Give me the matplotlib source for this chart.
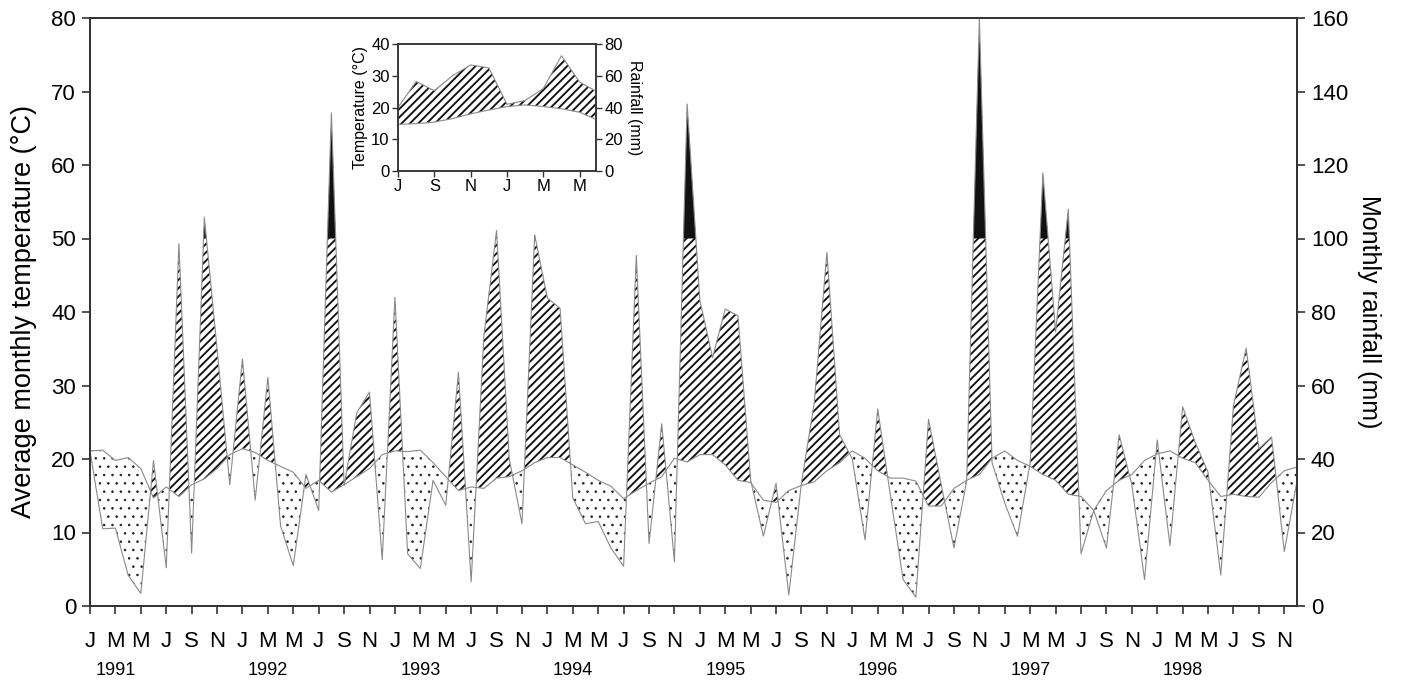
import numpy as np
import matplotlib
matplotlib.use("Agg")
import matplotlib.pyplot as plt

plt.rcParams['font.family'] = ['Liberation Sans', 'DejaVu Sans']
plt.rcParams['hatch.linewidth'] = 1.0

# ---------------- data (Jan 1991 .. Dec 1998) ----------------
years = [1991, 1992, 1993, 1994, 1995, 1996, 1997, 1998]
month_letters = ['J', 'M', 'M', 'J', 'S', 'N']

temperature = [
    21.1, 21.2, 19.8, 20.2, 18.7, 14.7, 16.2, 14.9, 16.5, 17.3, 18.7, 20.6,   # 1991
    21.4, 20.9, 19.8, 19.0, 18.2, 16.0, 17.1, 15.5, 16.5, 17.6, 18.7, 20.6,   # 1992
    21.1, 21.0, 21.2, 19.5, 17.6, 15.7, 16.2, 16.0, 17.4, 17.6, 18.4, 19.5,   # 1993
    20.2, 20.2, 19.2, 18.2, 17.1, 16.3, 14.6, 15.7, 16.7, 17.6, 20.1, 19.6,   # 1994
    20.6, 20.6, 19.2, 17.1, 16.8, 14.4, 14.1, 15.7, 16.4, 16.9, 18.4, 19.5,   # 1995
    21.1, 20.1, 18.4, 17.4, 17.4, 17.0, 13.6, 13.6, 16.0, 17.1, 17.9, 20.1,   # 1996
    21.1, 19.8, 19.0, 17.9, 17.1, 15.2, 14.9, 13.0, 15.7, 17.1, 17.9, 19.8,   # 1997
    20.7, 21.1, 20.1, 19.5, 17.1, 14.9, 15.2, 14.9, 14.8, 16.8, 18.4, 18.9,   # 1998
]

rainfall_mm = [
    42.2, 21.0, 21.2, 8.4, 3.4, 39.6, 10.4, 98.6, 14.4, 105.8, 70.0, 33.0,    # 1991
    67.2, 28.8, 62.2, 21.8, 11.0, 35.8, 26.0, 134.2, 32.8, 52.6, 58.2, 12.6,  # 1992
    84.0, 14.2, 10.2, 34.2, 27.4, 63.6, 6.6, 73.4, 102.2, 40.0, 22.4, 101.0,  # 1993
    83.8, 81.0, 29.4, 22.4, 23.0, 15.8, 10.8, 95.4, 17.0, 49.6, 12.0, 136.6,  # 1994
    83.2, 67.6, 80.8, 79.0, 34.2, 19.0, 33.4, 3.0, 33.6, 55.2, 96.2, 46.6,    # 1995
    40.0, 18.0, 53.6, 30.0, 7.2, 2.4, 50.8, 33.0, 15.8, 34.0, 159.8, 39.0,    # 1996
    28.0, 19.0, 39.0, 117.8, 74.6, 108.0, 14.2, 26.0, 15.8, 46.6, 33.0, 7.2,  # 1997
    45.2, 16.4, 54.2, 44.4, 36.4, 8.4, 54.6, 70.2, 42.8, 46.0, 14.8, 34.0,    # 1998
]

# inset: mean monthly climate, July .. June
inset_letters = ['J', 'S', 'N', 'J', 'M', 'M']
inset_temperature = [14.7, 14.9, 15.4, 16.5, 18.0, 19.2, 20.3, 20.8, 20.3, 19.6, 18.5, 16.0]
inset_rainfall_mm = [40.0, 56.4, 50.6, 60.0, 66.8, 65.0, 42.0, 44.4, 52.0, 72.6, 56.0, 49.6]

# ---------------- derived ----------------
t = np.array(temperature)
r = np.array(rainfall_mm) / 2.0          # rainfall on temperature scale (20 mm = 10 degC)
x = np.arange(len(t))

line_col = '#8a8a8a'
spine_col = '#333333'


def hatch_lw(coll, lw):
    if hasattr(coll, 'set_hatch_linewidth'):
        coll.set_hatch_linewidth(lw)


fig = plt.figure(figsize=(14.02, 6.82), dpi=100)
ax = fig.add_axes([90 / 1402, 76 / 682, 1207 / 1402, 588 / 682])

# humid (hatched), arid (dotted), very wet (black)
h = ax.fill_between(x, t, r, where=r >= t, interpolate=True, facecolor='white',
                    edgecolor='#111111', hatch='////', linewidth=0, zorder=1)
hatch_lw(h, 1.35)
with plt.rc_context({'hatch.linewidth': 0.6}):
    d = ax.fill_between(x, r, t, where=r <= t, interpolate=True, facecolor='white',
                        edgecolor='#222222', hatch='..', linewidth=0, zorder=1)
hatch_lw(d, 0.6)
ax.fill_between(x, 50, r, where=r >= 50, interpolate=True, facecolor='#111111',
                edgecolor='none', linewidth=0, zorder=2)
ax.plot(x, r, color=line_col, lw=0.8, zorder=3)
ax.plot(x, t, color=line_col, lw=0.8, zorder=3)

ax.set_xlim(0, len(t) - 1)
ax.set_ylim(0, 80)
ax.set_yticks(np.arange(0, 81, 10))
ax.set_xticks(np.arange(0, len(t), 2))
ax.set_xticklabels(month_letters * len(years))
ax.tick_params(axis='both', direction='out', length=6, width=1.2, color=spine_col,
               labelsize=16, pad=4)
ax.tick_params(axis='x', pad=12)
ax.set_ylabel('Average monthly temperature (\u00b0C)', fontsize=19.5, labelpad=10)
for i, yr in enumerate(years):
    ax.text(12 * i + 2, -0.11, str(yr), transform=ax.get_xaxis_transform(),
            ha='center', va='center', fontsize=13)

ax2 = ax.twinx()
ax2.set_ylim(0, 160)
ax2.set_yticks(np.arange(0, 161, 20))
ax2.tick_params(axis='y', direction='out', length=6, width=1.2, color=spine_col,
                labelsize=16, pad=4)
ax2.set_ylabel('Monthly rainfall (mm)', fontsize=18, rotation=270, labelpad=24)
for a in (ax, ax2):
    for s in a.spines.values():
        s.set_color(spine_col)
        s.set_linewidth(1.3)

# ---------------- inset ----------------
ti = np.array(inset_temperature)
ri = np.array(inset_rainfall_mm) / 2.0
xi = np.arange(len(ti))
ins = fig.add_axes([398 / 1402, (682 - 171) / 682, 198 / 1402, 127 / 682])
hi = ins.fill_between(xi, ti, ri, where=ri >= ti, interpolate=True, facecolor='white',
                      edgecolor='#111111', hatch='////', linewidth=0, zorder=1)
hatch_lw(hi, 1.35)
ins.plot(xi, ri, color=line_col, lw=0.8, zorder=3)
ins.plot(xi, ti, color=line_col, lw=0.8, zorder=3)
ins.set_xlim(0, 10.9)
ins.set_ylim(0, 40)
ins.set_yticks(np.arange(0, 41, 10))
ins.set_xticks(np.arange(0, 11, 2))
ins.set_xticklabels(inset_letters)
ins.tick_params(direction='out', length=4, width=1.0, color=spine_col, labelsize=12, pad=2)
ins.set_ylabel('Temperature (\u00b0C)', fontsize=11.5, labelpad=2)
ins2 = ins.twinx()
ins2.set_ylim(0, 80)
ins2.set_yticks(np.arange(0, 81, 20))
ins2.tick_params(direction='out', length=4, width=1.0, color=spine_col, labelsize=12, pad=2)
ins2.set_ylabel('Rainfall (mm)', fontsize=11.5, rotation=270, labelpad=14)
for a in (ins, ins2):
    for s in a.spines.values():
        s.set_color(spine_col)
        s.set_linewidth(1.1)

fig.savefig('out.png', dpi=100)
